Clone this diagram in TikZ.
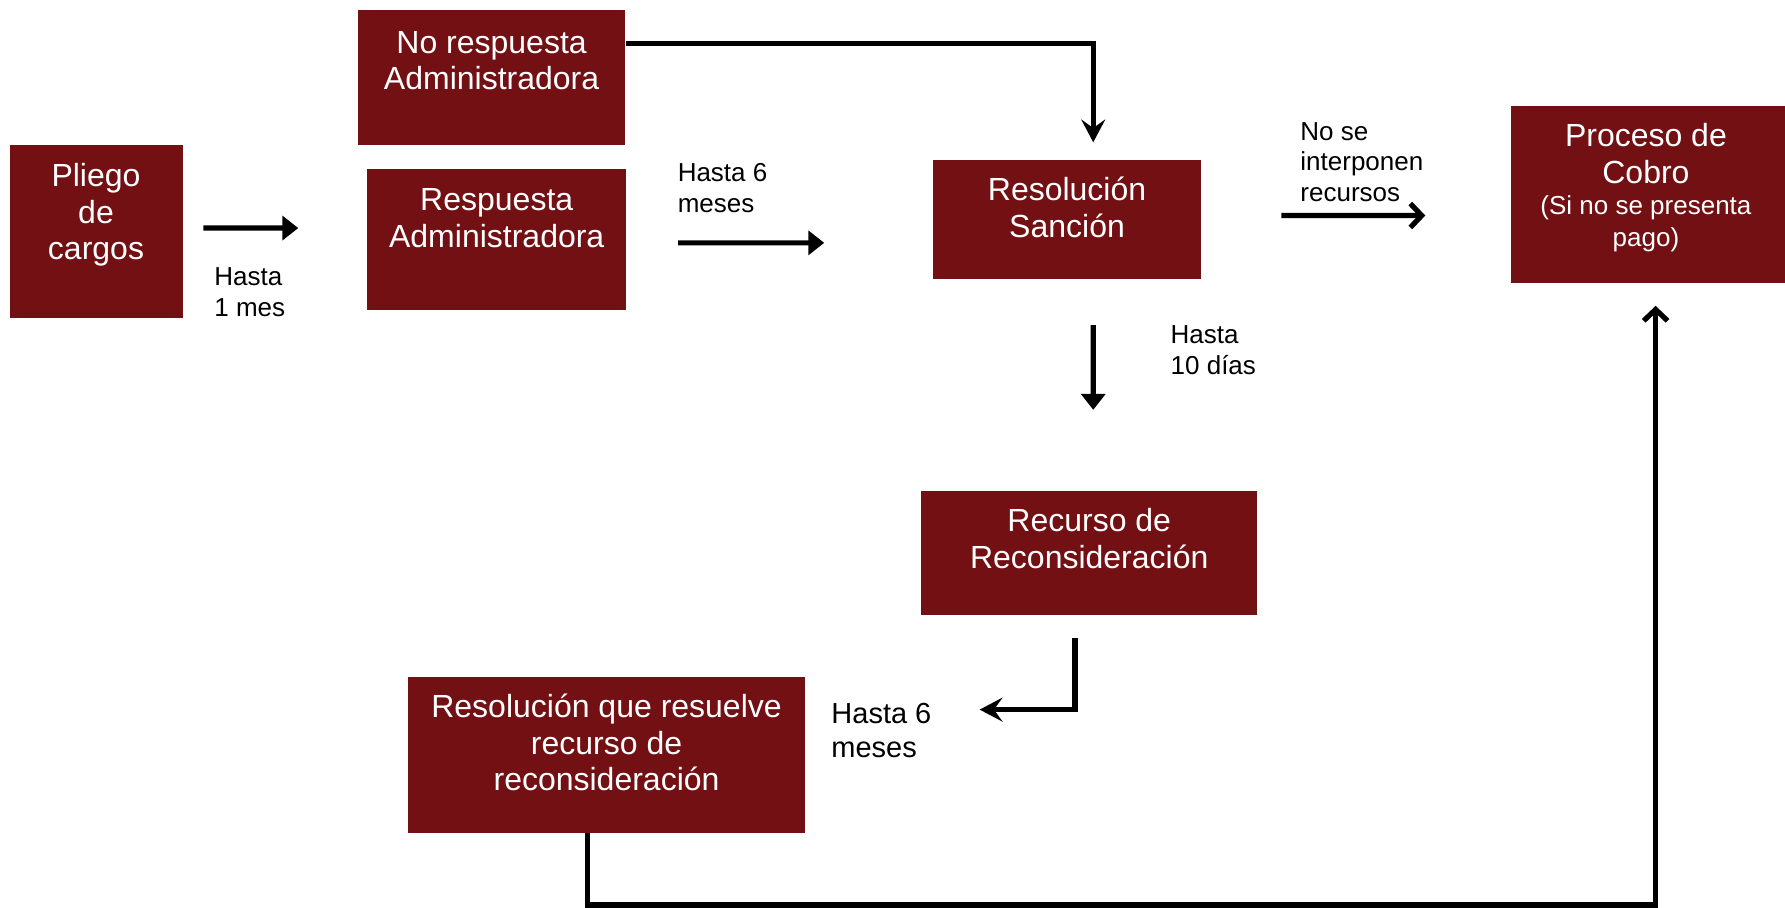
\documentclass[tikz,border=0pt]{standalone}
\usepackage{fontspec}
\setmainfont{Liberation Sans}
\usetikzlibrary{arrows.meta}
\definecolor{vino}{RGB}{115,16,20}
\tikzset{
  caja/.style={fill=vino, anchor=north west, inner sep=0pt},
  rotulo/.style={text=white, anchor=north, align=center, inner sep=0pt, font=\fontsize{16}{18.4}\selectfont},
  nota/.style={anchor=north west, align=left, inner sep=0pt, font=\fontsize{13}{15.4}\selectfont},
  flecha/.style={line width=2.6pt, -{Triangle[length=0.28cm,width=0.42cm]}},
  conector/.style={line width=2.6pt, -{Stealth[length=0.4cm,width=0.42cm,inset=0.15cm]}},
  abierta/.style={line width=2.6pt, -{Straight Barb[length=0.2cm,width=0.42cm]}},
}
\newcommand{\chica}{\fontsize{13}{15.4}\selectfont}

\begin{document}
\begin{tikzpicture}[x=0.02cm,y=-0.02cm]
  \useasboundingbox (0,0) rectangle (1568,797);
  % Cajas
  \node[caja, minimum width=3.04cm, minimum height=3.04cm] (pliego) at (8,127) {};
  \node[caja, minimum width=4.70cm, minimum height=2.38cm] (norespuesta) at (314,8) {};
  \node[caja, minimum width=4.56cm, minimum height=2.48cm] (respuesta) at (322,148) {};
  \node[caja, minimum width=4.72cm, minimum height=2.10cm] (sancion) at (819,140) {};
  \node[caja, minimum width=4.90cm, minimum height=3.10cm] (proceso) at (1327,93) {};
  \node[caja, minimum width=5.90cm, minimum height=2.18cm] (recurso) at (809,431) {};
  \node[caja, minimum width=6.98cm, minimum height=2.74cm] (resuelve) at (358,594) {};
  % Textos de las cajas
  \node[rotulo] (tpliego) at ([yshift=-0.32cm]pliego.north) {Pliego\\de\\cargos};
  \node[rotulo] (tnorespuesta) at ([yshift=-0.38cm]norespuesta.north) {No respuesta\\Administradora};
  \node[rotulo] (trespuesta) at ([yshift=-0.34cm]respuesta.north) {Respuesta\\Administradora};
  \node[rotulo] (tsancion) at ([yshift=-0.3cm]sancion.north) {Resolución\\Sanción};
  \node[rotulo] (tproceso) at ([xshift=-0.08cm,yshift=-0.3cm]proceso.north) {Proceso de\\Cobro\\[-0.1cm]{\chica (Si no se presenta}\\[-0.08cm]{\chica pago)}};
  \node[rotulo] (trecurso) at ([yshift=-0.3cm]recurso.north) {Recurso de\\Reconsideración};
  \node[rotulo] (tresuelve) at ([yshift=-0.3cm]resuelve.north) {Resolución que resuelve\\recurso de\\reconsideración};
  % Plazos
  \node[nota] (hasta1) at (188,235) {Hasta\\1 mes};
  \node[nota] (hasta6) at (595,143) {Hasta 6\\meses};
  \node[nota] (hasta10) at (1028,286) {Hasta\\10 días};
  \node[nota] (nose) at (1142,107) {No se\\interponen\\recursos};
  \node[nota, font=\fontsize{14.5}{17}\selectfont] (hasta6b) at (730,617) {Hasta 6\\meses};
  \coordinate (fondo) at (1000,795);
  % Flechas
  \draw[flecha] ([xshift=0.36cm,yshift=0.06cm]pliego.east) -- ([xshift=-1.2cm,yshift=0.2cm]respuesta.west);
  \draw[flecha] ([xshift=0.9cm,yshift=-0.06cm]respuesta.east) -- ([xshift=-1.9cm,yshift=-0.41cm]sancion.west);
  \draw[conector] ([yshift=-0.6cm]norespuesta.north east) -| ([xshift=0.46cm,yshift=0.3cm]sancion.north);
  \draw[flecha] ([xshift=0.46cm,yshift=-0.8cm]sancion.south) -- ([xshift=0.07cm,yshift=1.42cm]recurso.north);
  \draw[abierta] ([xshift=1.4cm,yshift=0.07cm]sancion.east) -- ([xshift=-1.5cm,yshift=-0.37cm]proceso.west);
  \draw[conector] ([xshift=-0.25cm,yshift=-0.4cm]recurso.south) |- ([xshift=3.06cm,yshift=0.79cm]resuelve.east);
  \draw[abierta] ([xshift=-0.33cm]resuelve.south) |- (fondo) -| ([xshift=0.09cm,yshift=-0.4cm]proceso.south);
\end{tikzpicture}
\end{document}
